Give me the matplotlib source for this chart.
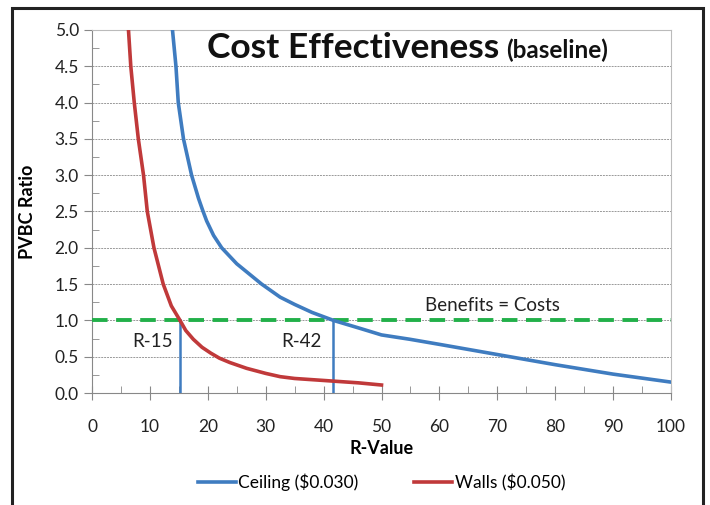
import numpy as np
import matplotlib
matplotlib.use("Agg")
import matplotlib.pyplot as plt
from matplotlib.patches import Rectangle
from matplotlib.ticker import MultipleLocator

plt.rcParams['font.family'] = ['Lato', 'DejaVu Sans']

# values
ceiling_r = [13.9, 14.5, 14.9, 15.8, 17.2, 18.4, 19.1, 19.8, 21.0, 22.4, 25.0, 29.3, 32.5, 35.0, 38.0,
             41.7, 46.3, 50.0, 54.9, 60.0, 70.0, 80.0, 90.0, 100.0]
ceiling_pvbc = [5.0, 4.5, 4.0, 3.5, 3.0, 2.68, 2.52, 2.37, 2.17, 2.0, 1.78, 1.5, 1.32, 1.22, 1.11,
                1.0, 0.89, 0.8, 0.74, 0.67, 0.53, 0.39, 0.26, 0.15]
walls_r = [6.3, 6.7, 7.3, 8.0, 8.9, 9.55, 10.7, 12.3, 13.7, 15.2, 16.2, 17.5, 19.0, 20.5, 22.0,
           23.8, 26.7, 30.0, 32.5, 35.0, 40.5, 46.0, 50.0]
walls_pvbc = [5.0, 4.5, 4.0, 3.5, 3.0, 2.5, 2.0, 1.5, 1.2, 1.0, 0.86, 0.74, 0.63, 0.55, 0.48,
              0.42, 0.34, 0.27, 0.225, 0.2, 0.17, 0.14, 0.11]
break_even = 1.0
cut_r = [15.2, 41.7]
cut_labels = ["R-15", "R-42"]

BLUE = "#3F7CC0"
RED = "#C0393A"
GREEN = "#22B04A"

fig = plt.figure(figsize=(7.1, 5.05), dpi=100)
# outer chart frame (cut off at bottom)
fig.patches.append(Rectangle((12/710, -0.05), (703-12)/710, 1.05 - 8/505,
                             transform=fig.transFigure, fill=False,
                             edgecolor="#222222", linewidth=2.2))

ax = fig.add_axes([92/710, 1 - 393/505, (671-92)/710, (393-30)/505])
ax.set_xlim(0, 100)
ax.set_ylim(0, 5)

ax.plot(ceiling_r, ceiling_pvbc, color=BLUE, lw=2.6, label="Ceiling ($0.030)", zorder=4,
        solid_joinstyle="round")
ax.plot(walls_r, walls_pvbc, color=RED, lw=2.6, label="Walls ($0.050)", zorder=4,
        solid_joinstyle="round")
ax.axhline(break_even, color=GREEN, lw=2.8, dashes=(4, 2.2), zorder=3)
for r in cut_r:
    ax.plot([r, r], [0, break_even], color=BLUE, lw=1.8, zorder=3)

ax.text(10.4, 0.71, cut_labels[0], ha="center", va="center", fontsize=13.5, color="#222222")
ax.text(36.2, 0.71, cut_labels[1], ha="center", va="center", fontsize=13.5, color="#222222")
ax.text(69.2, 1.21, "Benefits = Costs", ha="center", va="center", fontsize=13.5, color="#222222")

ax.text(0.199, 0.95, "Cost Effectiveness", transform=ax.transAxes, ha="left", va="center",
        fontsize=25.5, fontweight="bold", color="#111111")
ax.text(0.716, 0.945, "(baseline)", transform=ax.transAxes, ha="left", va="center",
        fontsize=17.5, fontweight="bold", color="#111111")

ax.xaxis.set_major_locator(MultipleLocator(10))
ax.xaxis.set_minor_locator(MultipleLocator(5))
ax.yaxis.set_major_locator(MultipleLocator(0.5))
ax.yaxis.set_minor_locator(MultipleLocator(0.25))
ax.set_yticklabels([f"{v:.1f}" for v in ax.get_yticks()])
ax.tick_params(axis="x", which="major", direction="inout", length=10, color="#888888",
               labelsize=12.5, pad=14, labelcolor="#222222")
ax.tick_params(axis="x", which="minor", direction="in", length=5, color="#888888")
ax.tick_params(axis="y", which="major", direction="out", length=6, color="#888888",
               labelsize=12.5, labelcolor="#222222")
ax.tick_params(axis="y", which="minor", direction="in", length=5, color="#888888")

ax.grid(axis="y", which="major", color="#999999", lw=0.7, ls=(0, (2, 1)))
for s in ["top", "right"]:
    ax.spines[s].set_color("#BBBBBB")
for s in ["left", "bottom"]:
    ax.spines[s].set_color("#888888")

ax.set_xlabel("R-Value", fontsize=13, fontweight="bold", labelpad=3)
ax.set_ylabel("PVBC Ratio", fontsize=13, fontweight="bold", labelpad=13)

ax.legend(loc="upper center", bbox_to_anchor=(0.5, -0.18), ncol=2, frameon=False,
          fontsize=12.5, handlelength=2.2, columnspacing=3.2, handletextpad=0.15)

fig.savefig("out.png", dpi=100)
